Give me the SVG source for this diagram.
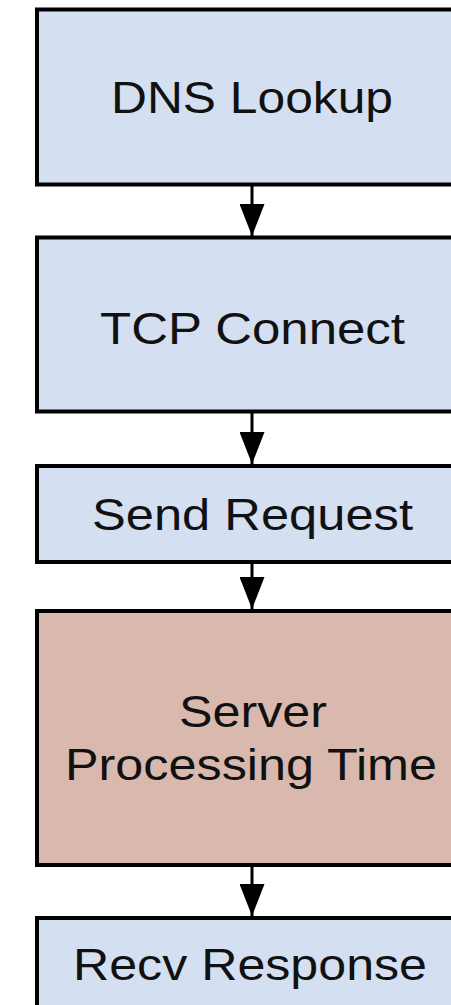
<svg xmlns="http://www.w3.org/2000/svg" width="451" height="1005" viewBox="0 0 451 1005">
  <style>
    .box { stroke: #000; stroke-width: 4; }
    .blue { fill: #d4dff1; }
    .rose { fill: #d9b9ae; }
    .label { font-family: "Liberation Sans", Arial, sans-serif; font-size: 45px; fill: #111; text-anchor: middle; }
    .edge { stroke: #000; stroke-width: 3; fill: none; }
  </style>
  <defs>
    <!-- solid triangular arrowhead, 32 long and 25 wide -->
    <marker id="arrow" markerWidth="32" markerHeight="25" refX="32" refY="12.5" orient="auto" markerUnits="userSpaceOnUse" viewBox="0 0 32 25">
      <path d="M0,0 L32,12.5 L0,25 Z" fill="#000"/>
    </marker>
  </defs>
  <rect width="451" height="1005" fill="#fff"/>

  <g id="connectors">
    <line class="edge" x1="252" y1="186" x2="252" y2="236" marker-end="url(#arrow)"/>
    <line class="edge" x1="252" y1="413" x2="252" y2="464" marker-end="url(#arrow)"/>
    <line class="edge" x1="252" y1="564" x2="252" y2="609" marker-end="url(#arrow)"/>
    <line class="edge" x1="252" y1="867" x2="252" y2="916" marker-end="url(#arrow)"/>
  </g>

  <g id="dns-lookup">
    <rect class="box blue" x="37" y="9.5" width="430" height="175"/>
    <text class="label" x="252" y="113" textLength="282" lengthAdjust="spacingAndGlyphs">DNS Lookup</text>
  </g>

  <g id="tcp-connect">
    <rect class="box blue" x="37" y="237.5" width="430" height="174"/>
    <text class="label" x="252.5" y="344" textLength="305" lengthAdjust="spacingAndGlyphs">TCP Connect</text>
  </g>

  <g id="send-request">
    <rect class="box blue" x="37" y="466" width="430" height="96"/>
    <text class="label" x="252.5" y="530" textLength="321" lengthAdjust="spacingAndGlyphs">Send Request</text>
  </g>

  <g id="server-processing">
    <rect class="box rose" x="37" y="611" width="430" height="254"/>
    <text class="label" x="253" y="727" textLength="148" lengthAdjust="spacingAndGlyphs">Server</text>
    <text class="label" x="251" y="780" textLength="372" lengthAdjust="spacingAndGlyphs">Processing Time</text>
  </g>

  <g id="recv-response">
    <rect class="box blue" x="37" y="918" width="430" height="100"/>
    <text class="label" x="250" y="980" textLength="354" lengthAdjust="spacingAndGlyphs">Recv Response</text>
  </g>
</svg>
